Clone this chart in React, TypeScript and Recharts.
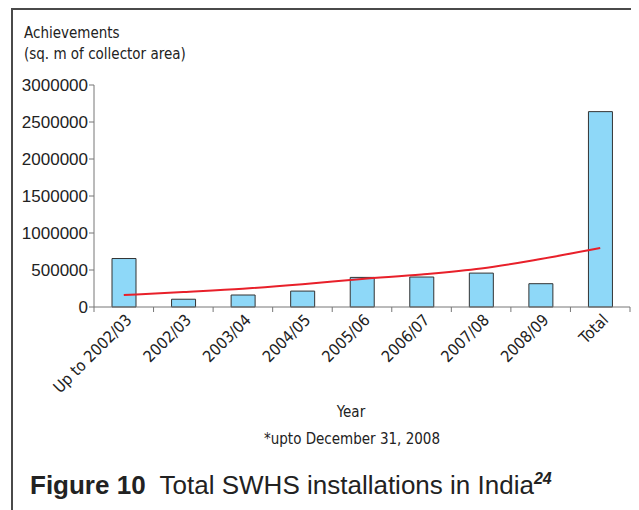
import React from 'react';
import { ComposedChart, Bar, Line, XAxis, YAxis } from 'recharts';

// Achievements per year (sq. m of collector area)
const categories = [
  'Up to 2002/03',
  '2002/03',
  '2003/04',
  '2004/05',
  '2005/06',
  '2006/07',
  '2007/08',
  '2008/09',
  'Total',
];
const achievements = [655000, 105000, 162000, 215000, 400000, 405000, 458000, 315000, 2640000];
// red trend curve, sampled at each category centre
const trend = [162000, 203000, 247000, 307000, 378000, 439000, 520000, 649000, 797000];
const yTicks = [0, 500000, 1000000, 1500000, 2000000, 2500000, 3000000];

const data = categories.map((year, i) => ({
  year,
  value: achievements[i],
  trend: trend[i],
}));

const FONT = '"Liberation Sans", Arial, sans-serif';
const NARROW = '"DejaVu Sans Condensed", "Liberation Sans", sans-serif';
const AXIS = '#777';

function YearTick(props: any) {
  const { x, y, payload, index } = props;
  const half = payload && payload.offset ? payload.offset : 29.8;
  const last = index === categories.length - 1;
  return (
    <g>
      <line x1={x - half} y1={y} x2={x - half} y2={y + 5} stroke={AXIS} />
      {last && <line x1={x + half} y1={y} x2={x + half} y2={y + 5} stroke={AXIS} />}
      <text
        x={x + 9}
        y={y + 14}
        textAnchor="end"
        transform={`rotate(-45 ${x + 9} ${y + 14})`}
        fontSize={16}
        fill="#222"
        fontFamily={NARROW}
      >
        {payload.value}
      </text>
    </g>
  );
}

const txt = (extra: React.CSSProperties): React.CSSProperties => ({
  position: 'absolute',
  fontFamily: NARROW,
  color: '#222',
  lineHeight: 1,
  whiteSpace: 'nowrap',
  ...extra,
});

export default function App() {
  return (
    <div style={{ position: 'relative', width: 631, height: 502, overflow: 'hidden', fontFamily: FONT }}>
      <div
        style={{
          position: 'absolute',
          left: 3,
          top: 0,
          width: 700,
          height: 600,
          borderLeft: '2px solid #4a4a4a',
          borderTop: '2px solid #4a4a4a',
        }}
      />
      <div style={txt({ left: 16, top: 18, fontSize: 15 })}>Achievements</div>
      <div style={txt({ left: 16, top: 39, fontSize: 15 })}>(sq. m of collector area)</div>

      <div style={{ position: 'absolute', left: 0, top: 0 }}>
        <ComposedChart
          width={631}
          height={400}
          data={data}
          margin={{ top: 77, right: 9, left: 0, bottom: 0 }}
        >
          <XAxis
            dataKey="year"
            interval={0}
            height={101}
            tickSize={0}
            tickMargin={0}
            tickLine={false}
            axisLine={{ stroke: AXIS }}
            tick={<YearTick />}
          />
          <YAxis
            domain={[0, 3000000]}
            ticks={yTicks}
            interval={0}
            width={86}
            tickSize={5}
            tickMargin={1}
            axisLine={{ stroke: AXIS }}
            tickLine={{ stroke: AXIS }}
            tick={{ fontSize: 17, fill: '#222', fontFamily: FONT }}
          />
          <Bar
            dataKey="value"
            barSize={24}
            fill="#8ed8f8"
            stroke="#333"
            strokeWidth={1}
            isAnimationActive={false}
          />
          <Line
            dataKey="trend"
            type="monotone"
            stroke="#e8202a"
            strokeWidth={2}
            dot={false}
            activeDot={false}
            isAnimationActive={false}
          />
        </ComposedChart>
      </div>

      <div style={txt({ left: 343, top: 397, fontSize: 15, transform: 'translateX(-50%)' })}>Year</div>
      <div style={txt({ left: 344, top: 424, fontSize: 15, transform: 'translateX(-50%)' })}>
        *upto December 31, 2008
      </div>
      <div style={txt({ left: 22, top: 463, fontSize: 26, fontFamily: FONT })}>
        <b>Figure 10</b>
        <span style={{ marginLeft: 14 }}>Total SWHS installations in India</span>
        <sup style={{ fontSize: 16, fontWeight: 'bold', fontStyle: 'italic', verticalAlign: 10 }}>24</sup>
      </div>
    </div>
  );
}
